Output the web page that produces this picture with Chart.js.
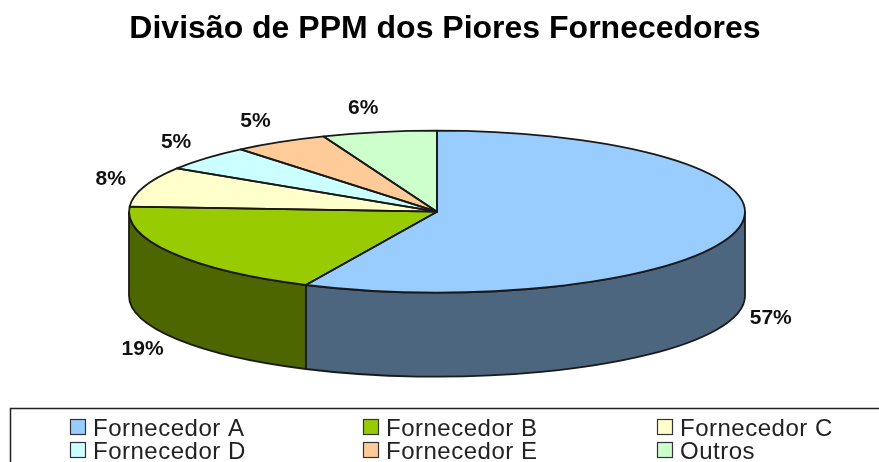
<!DOCTYPE html>
<html><head><meta charset="utf-8">
<style>html,body{margin:0;padding:0;background:#fff;overflow:hidden}#w{position:relative;width:879px;height:462px}canvas{display:block}</style>
<script src="https://cdn.jsdelivr.net/npm/chart.js@4/dist/chart.umd.min.js"></script>
</head><body><div id="w"><canvas id="c" width="879" height="462"></canvas></div>
<script>
const chartTitle = 'Divisão de PPM dos Piores Fornecedores';
const categories = ['Fornecedor A','Fornecedor B','Fornecedor C','Fornecedor D','Fornecedor E','Outros'];
const values = [57,19,8,5,5,6];
const sliceColors = ['#99CCFF','#99CC00','#FFFFCC','#CCFFFF','#FFCC99','#CCFFCC'];
const wallColors = ['#4D6680','#4D6600','#808066','#668080','#806650','#668066'];

const RX = 308, RY = 81, DEPTH = 84, OUTLINE = '#1a1a1a';
const K = RY / RX;

const pie3d = {
  id: 'pie3d',
  afterLayout(chart) {
    const t = chart.titleBlock;
    if (t) { t.left += 8; t.right += 8; }
  },
  beforeDatasetsDraw(chart) {
    const ctx = chart.ctx, arcs = chart.getDatasetMeta(0).data;
    ctx.save();
    ctx.lineWidth = 1.8; ctx.strokeStyle = OUTLINE;
    arcs.forEach((a, i) => {
      const s = a.startAngle, e = a.endAngle;
      // keep only the part of the slice on the front half of the rim
      const ranges = [[0, Math.PI], [2*Math.PI, 3*Math.PI], [-2*Math.PI, -Math.PI]];
      ranges.forEach(([lo, hi]) => {
        const s2 = Math.max(s, lo), e2 = Math.min(e, hi);
        if (e2 <= s2) return;
        ctx.beginPath();
        ctx.ellipse(a.x, a.y, RX, RY, 0, s2, e2);
        ctx.ellipse(a.x, a.y + DEPTH, RX, RY, 0, e2, s2, true);
        ctx.closePath();
        ctx.fillStyle = wallColors[i];
        ctx.fill();
        ctx.stroke();
      });
    });
    // the flat top is squashed into an ellipse
    const c = arcs[0];
    ctx.restore();
    ctx.save();
    ctx.translate(0, c.y); ctx.scale(1, K); ctx.translate(0, -c.y);
  },
  afterDatasetsDraw(chart) {
    const ctx = chart.ctx, arcs = chart.getDatasetMeta(0).data;
    ctx.restore();
    ctx.save();
    ctx.lineWidth = 1.8; ctx.strokeStyle = OUTLINE; ctx.lineJoin = 'round';
    arcs.forEach(a => {
      ctx.beginPath();
      ctx.moveTo(a.x, a.y);
      ctx.ellipse(a.x, a.y, RX, RY, 0, a.startAngle, a.endAngle);
      ctx.closePath();
      ctx.stroke();
    });
    // percentage labels
    ctx.fillStyle = '#111'; ctx.font = 'bold 21px "Liberation Sans"';
    ctx.textAlign = 'center'; ctx.textBaseline = 'middle';
    const total = values.reduce((p, v) => p + v, 0);
    arcs.forEach((a, i) => {
      const m = (a.startAngle + a.endAngle) / 2;
      const cs = Math.cos(m), sn = Math.sin(m);
      const x = a.x + (RX + 34) * cs - (sn < 0 ? 10 * sn * sn : 0);
      const y = a.y + (RY + 24) * sn + (sn > 0 ? DEPTH : 0);
      ctx.fillText(Math.round(values[i] / total * 100) + '%', x, y);
    });
    ctx.restore();
    // legend box
    ctx.save();
    ctx.strokeStyle = '#222'; ctx.lineWidth = 1.5;
    ctx.beginPath(); ctx.moveTo(10.5, 470); ctx.lineTo(10.5, 408.5); ctx.lineTo(885, 408.5); ctx.stroke();
    const colX = [70, 363, 657], rowY = [427, 450];
    ctx.font = '24px "Liberation Sans"'; ctx.letterSpacing = '0.5px';
    ctx.textBaseline = 'middle'; ctx.textAlign = 'left';
    categories.forEach((name, i) => {
      const x = colX[i % 3], y = rowY[Math.floor(i / 3)];
      ctx.fillStyle = sliceColors[i]; ctx.fillRect(x + .5, y - 7.5, 15, 15);
      ctx.strokeStyle = '#333'; ctx.lineWidth = 1.2; ctx.strokeRect(x + .5, y - 7.5, 15, 15);
      ctx.fillStyle = '#222'; ctx.fillText(name, x + 23, y + 2);
    });
    ctx.restore();
  }
};

new Chart(document.getElementById('c'), {
  type: 'pie',
  data: { labels: categories, datasets: [{ data: values, backgroundColor: sliceColors, borderWidth: 0, clip: false, radius: RX }] },
  options: {
    responsive: false, animation: false, events: [],
    rotation: 0,
    layout: { padding: { left: 0, right: 5, top: 0, bottom: 90 } },
    plugins: {
      legend: { display: false }, tooltip: { enabled: false },
      title: { display: true, text: chartTitle, color: '#000',
        font: { family: '"Liberation Sans"', size: 32, weight: 'bold' },
        padding: { top: 10, bottom: 3 } }
    }
  },
  plugins: [pie3d]
});
</script></body></html>
